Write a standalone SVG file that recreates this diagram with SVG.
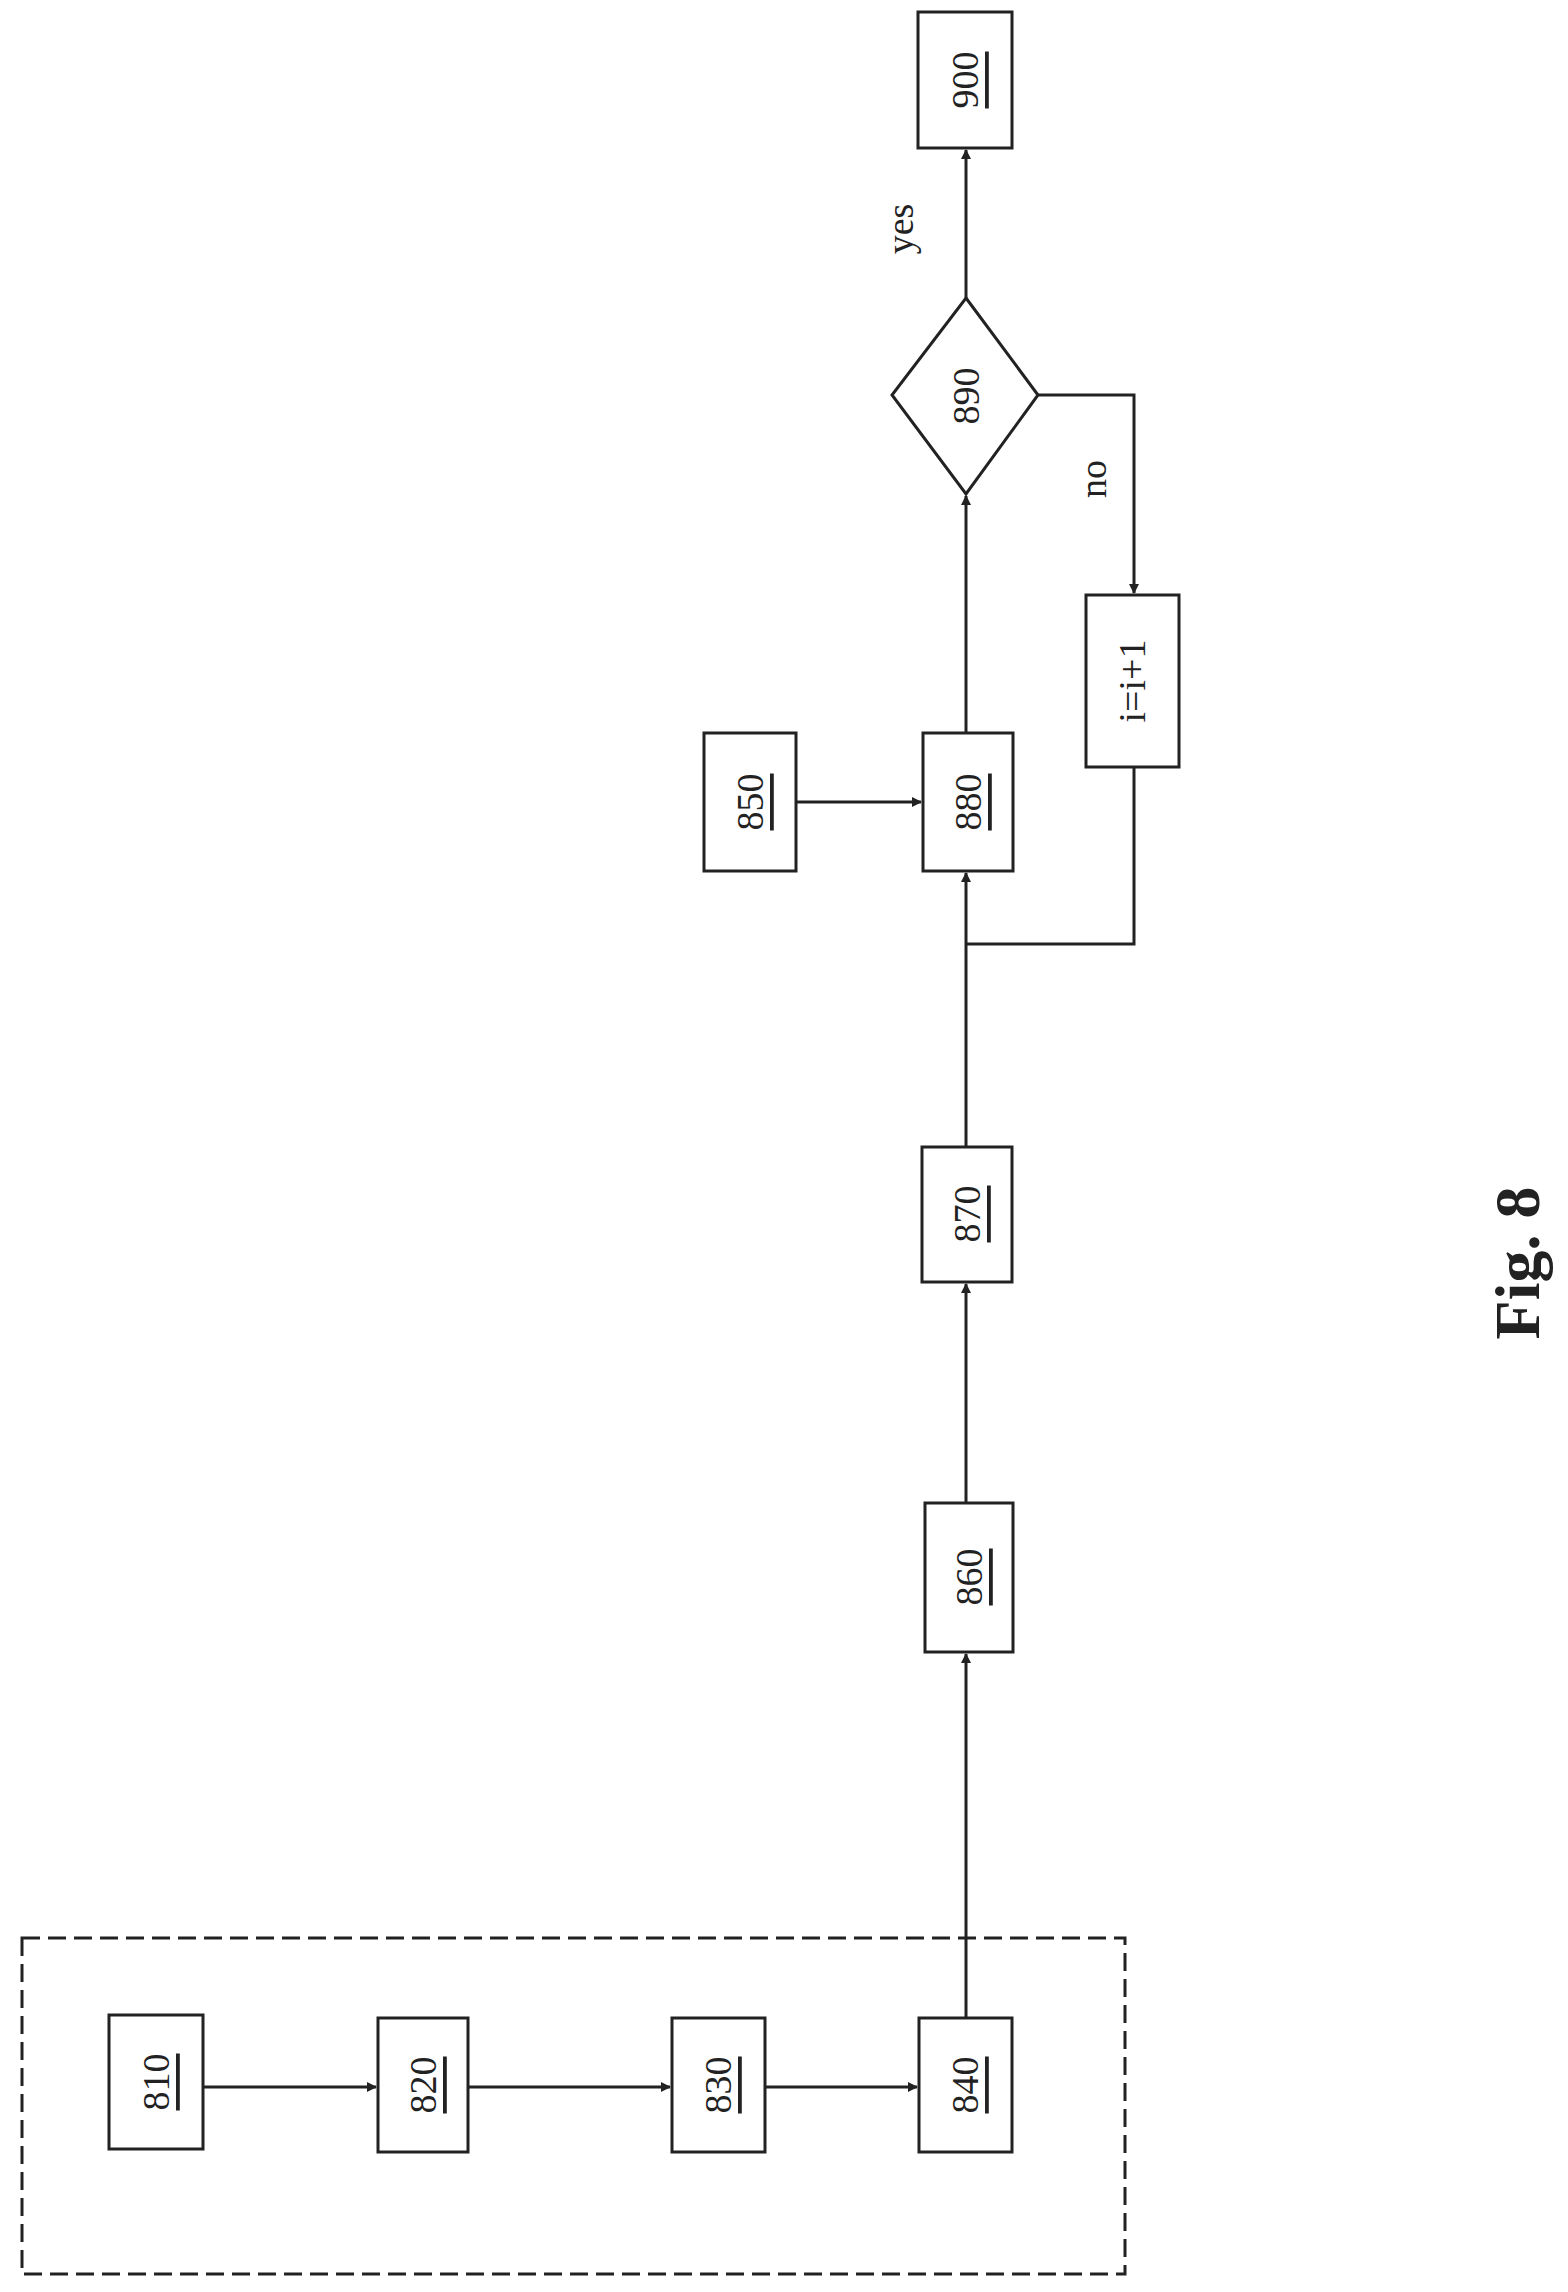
<svg xmlns="http://www.w3.org/2000/svg" width="1568" height="2292" viewBox="0 0 1568 2292">
<style>
.b{fill:#fff;stroke:#222;stroke-width:3}
.t{font-family:"Liberation Serif",serif;font-size:38px;fill:#222;text-anchor:middle;dominant-baseline:central}
.u{text-decoration:underline}
.c{fill:none;stroke:#222;stroke-width:3}
</style>
<defs><marker id="a" markerWidth="10" markerHeight="10" refX="9" refY="5" orient="auto" markerUnits="userSpaceOnUse" viewBox="0 0 10 10"><path d="M0,0L10,5L0,10z" fill="#222"/></marker></defs>
<rect x="22" y="1938" width="1103" height="336" fill="none" stroke="#222" stroke-width="3" stroke-dasharray="18,8"/>
<g id="connectors">
<path class="c" d="M203,2087H376" marker-end="url(#a)"/>
<path class="c" d="M468,2087H670" marker-end="url(#a)"/>
<path class="c" d="M765,2087H917" marker-end="url(#a)"/>
<path class="c" d="M966,2018V1654" marker-end="url(#a)"/>
<path class="c" d="M966,1503V1284" marker-end="url(#a)"/>
<path class="c" d="M966,1147V873" marker-end="url(#a)"/>
<path class="c" d="M796,802H921" marker-end="url(#a)"/>
<path class="c" d="M966,733V496" marker-end="url(#a)"/>
<path class="c" d="M966,298V150" marker-end="url(#a)"/>
<path class="c" d="M1038,395H1134V593" marker-end="url(#a)"/>
<path class="c" d="M1134,767V944H966"/>
</g>
<g id="n810"><rect class="b" x="109" y="2015" width="94" height="134"/><text class="t u" transform="translate(156,2082) rotate(-90)">810</text></g>
<g id="n820"><rect class="b" x="378" y="2018" width="90" height="134"/><text class="t u" transform="translate(423,2085) rotate(-90)">820</text></g>
<g id="n830"><rect class="b" x="672" y="2018" width="93" height="134"/><text class="t u" transform="translate(718,2085) rotate(-90)">830</text></g>
<g id="n840"><rect class="b" x="919" y="2018" width="93" height="134"/><text class="t u" transform="translate(965,2085) rotate(-90)">840</text></g>
<g id="n860"><rect class="b" x="925" y="1503" width="88" height="149"/><text class="t u" transform="translate(969,1577) rotate(-90)">860</text></g>
<g id="n870"><rect class="b" x="922" y="1147" width="90" height="135"/><text class="t u" transform="translate(967,1214) rotate(-90)">870</text></g>
<g id="n880"><rect class="b" x="923" y="733" width="90" height="138"/><text class="t u" transform="translate(968,802) rotate(-90)">880</text></g>
<g id="n850"><rect class="b" x="704" y="733" width="92" height="138"/><text class="t u" transform="translate(750,802) rotate(-90)">850</text></g>
<g id="ninc"><rect class="b" x="1086" y="595" width="93" height="172"/><text class="t" transform="translate(1132,681) rotate(-90)">i=i+1</text></g>
<g id="n890"><path class="b" d="M966,298L1038,395L966,494L892,395Z"/><text class="t" transform="translate(966,396) rotate(-90)">890</text></g>
<g id="n900"><rect class="b" x="918" y="12" width="94" height="136"/><text class="t u" transform="translate(965,80) rotate(-90)">900</text></g>
<text class="t" transform="translate(900,229) rotate(-90)">yes</text>
<text class="t" transform="translate(1093,479) rotate(-90)">no</text>
<text class="t" style="font-size:64px;font-weight:bold" transform="translate(1517,1263) rotate(-90)">Fig. 8</text>
</svg>
